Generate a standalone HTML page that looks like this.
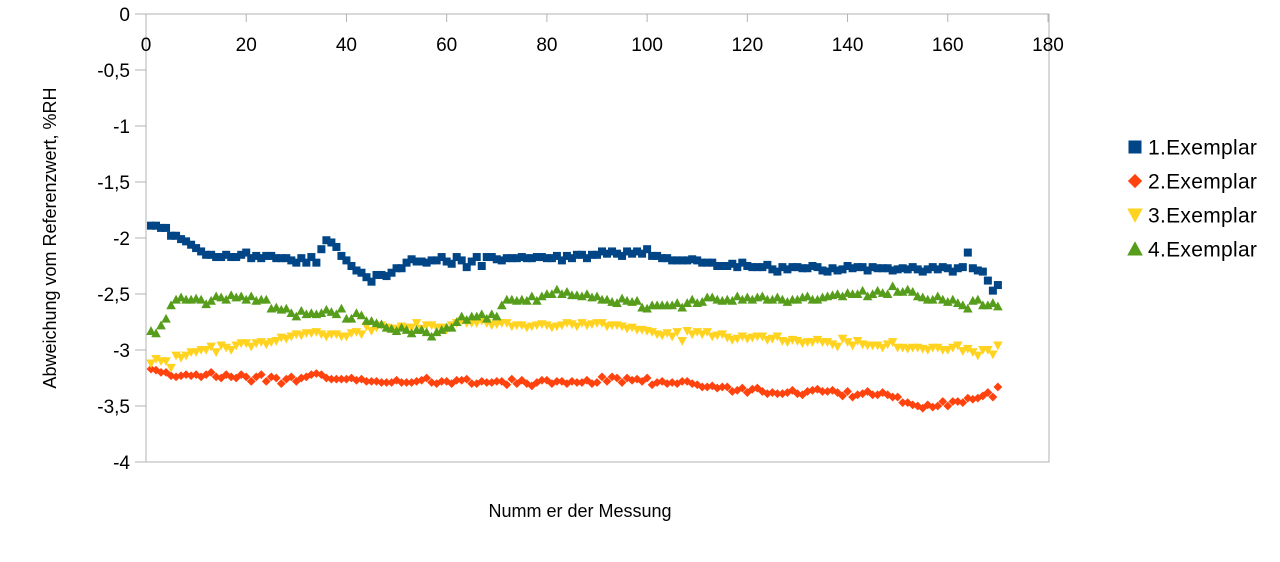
<!DOCTYPE html>
<html><head><meta charset="utf-8"><style>
body{margin:0;background:#fff;}
svg text{font-family:"Liberation Sans",sans-serif;fill:#000;}
</style></head><body>
<svg id="chart" width="1280" height="557" xmlns="http://www.w3.org/2000/svg">
<rect x="146" y="14" width="903" height="448" fill="none" stroke="#b3b3b3" stroke-width="1"/>
<g id="axes"></g>
<g id="marks"></g>
<text x="580" y="517" font-size="18" text-anchor="middle">Numm er der Messung</text>
<text transform="translate(56,238) rotate(-90)" font-size="18" text-anchor="middle">Abweichung vom Referenzwert, %RH</text>
<g id="legend"></g>
</svg>
<script>
const xTicks=[0,20,40,60,80,100,120,140,160,180];
const yTicks=[0,-0.5,-1,-1.5,-2,-2.5,-3,-3.5,-4];
const yTickLabels=["0","-0,5","-1","-1,5","-2","-2,5","-3","-3,5","-4"];
const seriesNames=["1.Exemplar","2.Exemplar","3.Exemplar","4.Exemplar"];
const s1=[-1.89,-1.89,-1.91,-1.91,-1.98,-1.98,-2.01,-2.03,-2.06,-2.09,
-2.12,-2.15,-2.15,-2.17,-2.17,-2.15,-2.17,-2.17,-2.15,-2.13,
-2.18,-2.16,-2.18,-2.16,-2.16,-2.18,-2.18,-2.18,-2.2,-2.22,
-2.18,-2.22,-2.17,-2.22,-2.1,-2.02,-2.04,-2.08,-2.16,-2.2,
-2.25,-2.29,-2.31,-2.35,-2.39,-2.33,-2.33,-2.34,-2.31,-2.27,
-2.27,-2.22,-2.19,-2.21,-2.21,-2.22,-2.2,-2.2,-2.17,-2.21,
-2.23,-2.17,-2.2,-2.26,-2.21,-2.17,-2.25,-2.17,-2.17,-2.19,
-2.2,-2.18,-2.18,-2.18,-2.17,-2.18,-2.18,-2.17,-2.17,-2.18,
-2.18,-2.16,-2.2,-2.16,-2.18,-2.15,-2.15,-2.18,-2.15,-2.15,
-2.12,-2.14,-2.12,-2.14,-2.16,-2.12,-2.14,-2.12,-2.14,-2.1,
-2.16,-2.16,-2.18,-2.18,-2.2,-2.2,-2.2,-2.2,-2.19,-2.2,
-2.22,-2.22,-2.22,-2.25,-2.25,-2.25,-2.23,-2.26,-2.22,-2.25,
-2.26,-2.26,-2.26,-2.24,-2.28,-2.3,-2.26,-2.28,-2.26,-2.26,
-2.27,-2.27,-2.25,-2.26,-2.29,-2.3,-2.27,-2.29,-2.28,-2.25,
-2.27,-2.26,-2.26,-2.29,-2.26,-2.27,-2.27,-2.27,-2.29,-2.28,
-2.27,-2.28,-2.26,-2.28,-2.3,-2.28,-2.26,-2.28,-2.26,-2.27,
-2.3,-2.27,-2.26,-2.13,-2.27,-2.29,-2.3,-2.38,-2.47,-2.42];
const s2=[-3.17,-3.18,-3.2,-3.2,-3.23,-3.24,-3.23,-3.22,-3.23,-3.22,
-3.24,-3.22,-3.2,-3.24,-3.25,-3.22,-3.24,-3.25,-3.22,-3.24,
-3.28,-3.24,-3.22,-3.28,-3.24,-3.25,-3.3,-3.26,-3.24,-3.28,
-3.25,-3.24,-3.22,-3.21,-3.22,-3.25,-3.26,-3.26,-3.26,-3.26,
-3.25,-3.27,-3.26,-3.28,-3.28,-3.28,-3.29,-3.29,-3.29,-3.27,
-3.29,-3.29,-3.29,-3.28,-3.27,-3.25,-3.29,-3.3,-3.28,-3.28,
-3.3,-3.27,-3.27,-3.26,-3.3,-3.3,-3.28,-3.29,-3.29,-3.28,
-3.28,-3.31,-3.26,-3.3,-3.27,-3.3,-3.32,-3.29,-3.27,-3.27,
-3.3,-3.28,-3.28,-3.3,-3.28,-3.29,-3.29,-3.27,-3.3,-3.29,
-3.24,-3.28,-3.24,-3.25,-3.29,-3.25,-3.27,-3.26,-3.28,-3.25,
-3.31,-3.29,-3.28,-3.3,-3.29,-3.3,-3.28,-3.28,-3.3,-3.31,
-3.33,-3.33,-3.32,-3.34,-3.33,-3.33,-3.37,-3.36,-3.34,-3.38,
-3.35,-3.34,-3.37,-3.39,-3.38,-3.39,-3.39,-3.38,-3.36,-3.39,
-3.4,-3.37,-3.36,-3.35,-3.37,-3.37,-3.36,-3.38,-3.41,-3.37,
-3.42,-3.4,-3.39,-3.37,-3.4,-3.4,-3.38,-3.4,-3.42,-3.42,
-3.47,-3.47,-3.49,-3.5,-3.52,-3.49,-3.51,-3.5,-3.46,-3.5,
-3.46,-3.46,-3.47,-3.43,-3.44,-3.43,-3.41,-3.38,-3.42,-3.33];
const s3=[-3.12,-3.08,-3.1,-3.1,-3.16,-3.05,-3.07,-3.05,-3.02,-3.02,
-3.0,-3.0,-2.97,-3.02,-2.96,-2.98,-3.0,-2.96,-2.94,-2.94,
-2.97,-2.94,-2.93,-2.95,-2.93,-2.92,-2.89,-2.9,-2.88,-2.86,
-2.87,-2.85,-2.85,-2.84,-2.86,-2.88,-2.86,-2.86,-2.88,-2.88,
-2.85,-2.84,-2.86,-2.79,-2.83,-2.8,-2.78,-2.8,-2.81,-2.81,
-2.79,-2.8,-2.8,-2.76,-2.81,-2.78,-2.78,-2.8,-2.8,-2.82,
-2.78,-2.76,-2.74,-2.76,-2.76,-2.76,-2.74,-2.76,-2.78,-2.77,
-2.76,-2.76,-2.79,-2.78,-2.78,-2.8,-2.79,-2.78,-2.77,-2.78,
-2.8,-2.79,-2.78,-2.76,-2.77,-2.79,-2.76,-2.78,-2.77,-2.76,
-2.76,-2.79,-2.78,-2.78,-2.79,-2.81,-2.8,-2.82,-2.82,-2.83,
-2.84,-2.86,-2.87,-2.85,-2.88,-2.84,-2.92,-2.83,-2.86,-2.84,
-2.86,-2.84,-2.88,-2.87,-2.86,-2.89,-2.91,-2.9,-2.88,-2.9,
-2.89,-2.88,-2.88,-2.91,-2.9,-2.88,-2.92,-2.93,-2.91,-2.92,
-2.94,-2.93,-2.93,-2.91,-2.93,-2.93,-2.95,-2.97,-2.9,-2.93,
-2.96,-2.92,-2.95,-2.96,-2.96,-2.96,-2.98,-2.95,-2.93,-2.98,
-2.98,-2.99,-2.98,-2.98,-2.99,-3.0,-2.98,-2.98,-3.0,-3.0,
-2.98,-2.96,-3.01,-2.99,-3.02,-3.05,-3.0,-3.0,-3.04,-2.96];
const s4=[-2.83,-2.85,-2.78,-2.72,-2.6,-2.55,-2.53,-2.55,-2.55,-2.54,
-2.55,-2.59,-2.56,-2.52,-2.53,-2.55,-2.51,-2.53,-2.52,-2.55,
-2.52,-2.56,-2.55,-2.55,-2.63,-2.62,-2.64,-2.63,-2.67,-2.7,
-2.65,-2.68,-2.67,-2.68,-2.67,-2.64,-2.66,-2.68,-2.63,-2.72,
-2.72,-2.67,-2.69,-2.74,-2.74,-2.76,-2.77,-2.8,-2.81,-2.83,
-2.8,-2.82,-2.85,-2.82,-2.82,-2.84,-2.88,-2.84,-2.82,-2.8,
-2.8,-2.75,-2.7,-2.73,-2.7,-2.7,-2.68,-2.72,-2.68,-2.7,
-2.6,-2.55,-2.55,-2.56,-2.55,-2.56,-2.52,-2.56,-2.52,-2.5,
-2.5,-2.46,-2.5,-2.48,-2.51,-2.51,-2.52,-2.5,-2.53,-2.52,
-2.55,-2.55,-2.57,-2.58,-2.54,-2.56,-2.57,-2.56,-2.62,-2.63,
-2.6,-2.6,-2.6,-2.6,-2.6,-2.58,-2.62,-2.58,-2.55,-2.58,
-2.57,-2.53,-2.53,-2.55,-2.56,-2.55,-2.56,-2.52,-2.55,-2.53,
-2.55,-2.53,-2.52,-2.55,-2.55,-2.53,-2.55,-2.57,-2.55,-2.55,
-2.53,-2.52,-2.55,-2.55,-2.53,-2.52,-2.51,-2.5,-2.52,-2.49,
-2.5,-2.5,-2.47,-2.52,-2.5,-2.47,-2.49,-2.5,-2.43,-2.48,
-2.48,-2.46,-2.48,-2.52,-2.53,-2.55,-2.55,-2.52,-2.55,-2.57,
-2.55,-2.58,-2.6,-2.63,-2.56,-2.55,-2.6,-2.6,-2.58,-2.61];

const NS="http://www.w3.org/2000/svg";
const X0=146,X1=1048,Y0=14,Y1=462;
const xScale=v=>X0+(v-0)/(180-0)*(X1-X0);
const yScale=v=>Y0+(0-v)/(0-(-4))*(Y1-Y0);
function mk(tag,attrs,parent){const e=document.createElementNS(NS,tag);for(const k in attrs)e.setAttribute(k,attrs[k]);parent.appendChild(e);return e;}
const axes=document.getElementById('axes');
let l=mk('line',{x1:135,y1:Y0,x2:1049,y2:Y0,stroke:'#b3b3b3'},axes);


l=mk('line',{x1:X0,y1:Y0,x2:X0,y2:Y1,stroke:'#b3b3b3'},axes);


xTicks.forEach(t=>{const x=xScale(t);
 const tk=mk('line',{x1:x,y1:Y0,x2:x,y2:Y0+8,stroke:'#b3b3b3'},axes);
 
 
 const tx=mk('text',{x:x,y:51,'font-size':19,'text-anchor':'middle'},axes);tx.textContent=t;
 
 
});
yTicks.forEach((t,i)=>{const y=yScale(t);
 const tk=mk('line',{x1:135,y1:y,x2:X0,y2:y,stroke:'#b3b3b3'},axes);
 
 
 const tx=mk('text',{x:130,y:y+7,'font-size':19,'text-anchor':'end'},axes);tx.textContent=yTickLabels[i];
 
 
});
const colors=["#004586","#ff420e","#ffd320","#579d1c"];
function marker(kind,cx,cy,color,parent,r){
 r=r||4;
 if(kind===0)return mk('rect',{x:cx-r,y:cy-r,width:2*r,height:2*r,fill:color},parent);
 if(kind===1)return mk('polygon',{points:`${cx},${cy-r*1.1} ${cx+r*1.1},${cy} ${cx},${cy+r*1.1} ${cx-r*1.1},${cy}`,fill:color},parent);
 if(kind===2)return mk('polygon',{points:`${cx-r*1.2},${cy-r} ${cx+r*1.2},${cy-r} ${cx},${cy+r*1.2}`,fill:color},parent);
 return mk('polygon',{points:`${cx-r*1.2},${cy+r} ${cx+r*1.2},${cy+r} ${cx},${cy-r*1.2}`,fill:color},parent);
}
const marks=document.getElementById('marks');
[s1,s2,s3,s4].forEach((s,k)=>{
 const g=mk('g',{},marks);
 
 
 s.forEach((v,i)=>{const m=marker(k,xScale(i+1),yScale(v),colors[k],g);
  
  
 });
});
const legend=document.getElementById('legend');
seriesNames.forEach((n,k)=>{const y=147+k*34;
 const g=mk('g',{},legend);
 
 
 marker(k,1135,y,colors[k],g,6.5);
 const t=mk('text',{x:1148,y:y+7.5,'font-size':21,'letter-spacing':'0.3'},g);t.textContent=n;
});
</script>
</body></html>
